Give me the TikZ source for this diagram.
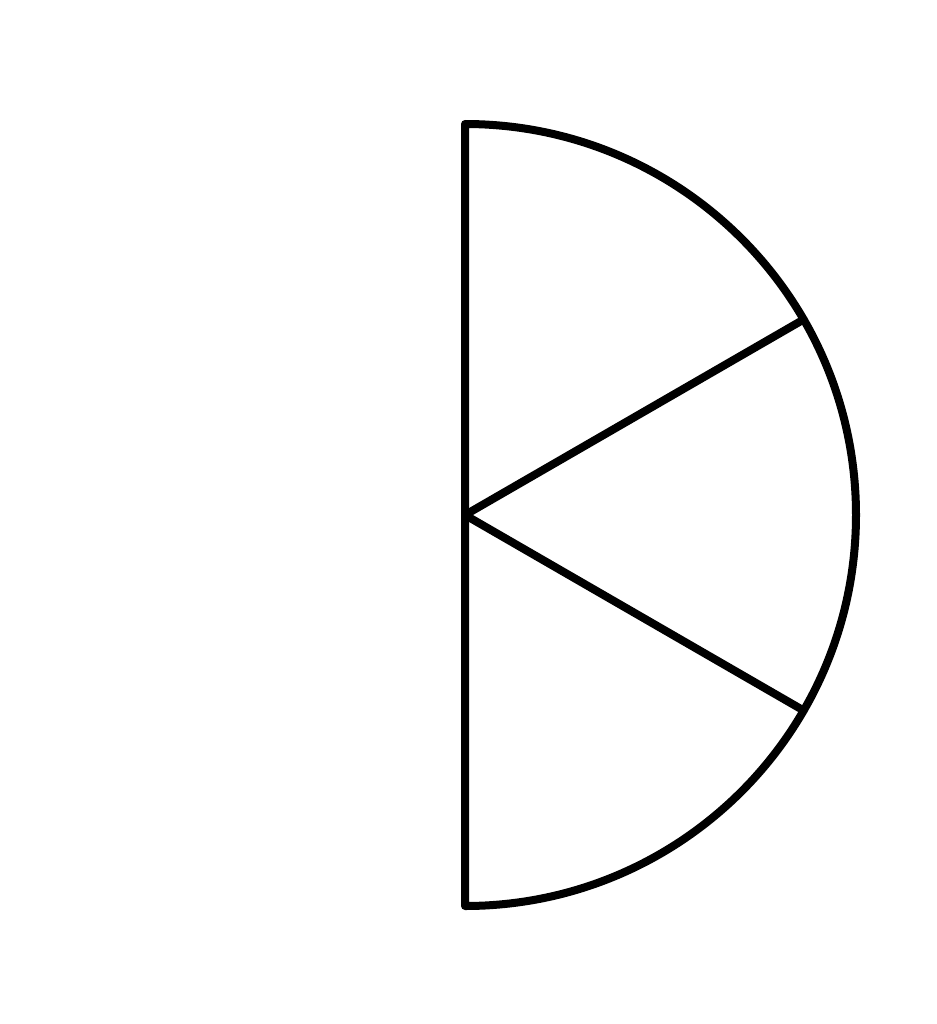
\documentclass[tikz,border=0pt]{standalone}
\begin{document}
\begin{tikzpicture}[x=0.01cm,y=-0.01cm,
  outline/.style={draw=black,line width=0.08cm,line join=round,line cap=round}]
\useasboundingbox (0,0) rectangle (937,1024);
\coordinate (c) at (465,515);
\draw[outline] (465,124) arc[start angle=-90,end angle=90,radius=391] -- cycle;
\draw[outline] (c) -- ++(30:391);
\draw[outline] (c) -- ++(-30:391);
\end{tikzpicture}
\end{document}
